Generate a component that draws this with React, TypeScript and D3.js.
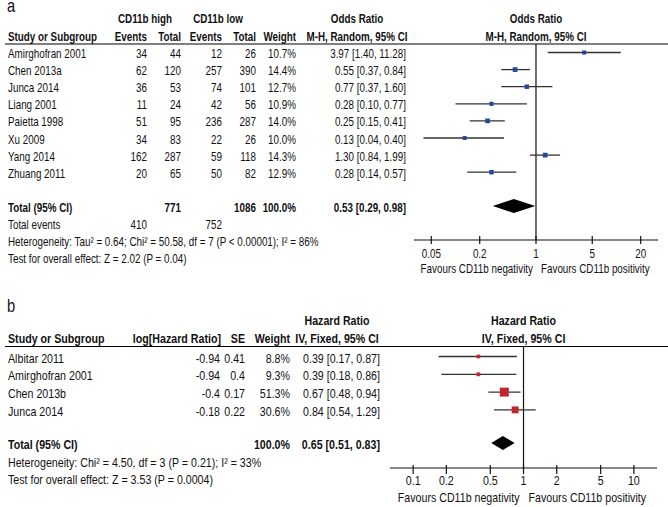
import * as d3 from 'd3';
import React, { useRef, useEffect } from 'react';

const FONT = "'Liberation Sans', Arial, sans-serif";
const SQUEEZE = 0.82; // the source uses a narrow face

// panel a - CD11b high vs low, odds ratios
const studiesA = ['Amirghofran 2001', 'Chen 2013a', 'Junca 2014', 'Liang 2001', 'Paietta 1998', 'Xu 2009', 'Yang 2014', 'Zhuang 2011'];
const highEvents = [34, 62, 36, 11, 51, 34, 162, 20];
const highTotal = [44, 120, 53, 24, 95, 83, 287, 65];
const lowEvents = [12, 257, 74, 42, 236, 22, 59, 50];
const lowTotal = [26, 390, 101, 56, 287, 26, 118, 82];
const weightA = [10.7, 14.4, 12.7, 10.9, 14.0, 10.0, 14.3, 12.9];
const orA = [3.97, 0.55, 0.77, 0.28, 0.25, 0.13, 1.30, 0.28];
const orLowA = [1.40, 0.37, 0.37, 0.10, 0.15, 0.04, 0.84, 0.14];
const orHighA = [11.28, 0.84, 1.60, 0.77, 0.41, 0.40, 1.99, 0.57];
const totalOrA = [0.53, 0.29, 0.98]; // estimate, lower, upper
const ticksA = [0.05, 0.2, 1, 5, 20];
const hetA = 'Heterogeneity: Tau² = 0.64; Chi² = 50.58, df = 7 (P < 0.00001); I² = 86%';
const testA = 'Test for overall effect: Z = 2.02 (P = 0.04)';

// panel b - hazard ratios
const studiesB = ['Albitar 2011', 'Amirghofran 2001', 'Chen 2013b', 'Junca 2014'];
const logHR = [-0.94, -0.94, -0.4, -0.18];
const seB = [0.41, 0.4, 0.17, 0.22];
const weightB = [8.8, 9.3, 51.3, 30.6];
const hrB = [0.39, 0.39, 0.67, 0.84];
const hrLowB = [0.17, 0.18, 0.48, 0.54];
const hrHighB = [0.87, 0.86, 0.94, 1.29];
const totalHrB = [0.65, 0.51, 0.83];
const ticksB = [0.1, 0.2, 0.5, 1, 2, 5, 10];
const hetB = 'Heterogeneity: Chi² = 4.50, df = 3 (P = 0.21); I² = 33%';
const testB = 'Test for overall effect: Z = 3.53 (P = 0.0004)';

const totalWeight = 100.0;

const ciText = (e: number, lo: number, hi: number) => `${e.toFixed(2)} [${lo.toFixed(2)}, ${hi.toFixed(2)}]`;

const App = () => {
    const ref = useRef<HTMLDivElement>(null);

    useEffect(() => {
        const width = 668;
        const height = 507;

        d3.select(ref.current).select('svg').remove();

        const svg = d3.select(ref.current)
            .append('svg')
            .attr('width', width)
            .attr('height', height)
            .style('display', 'block')
            .style('background', '#fff')
            .style('font-family', FONT)
            .attr('fill', '#111');

        // text helper, squeezed horizontally around its anchor point
        const txt = (g: any, x: number, y: number, s: string | number, anchor = 'start', bold = false, size = 12) =>
            g.append('text')
                .attr('transform', `translate(${x},${y}) scale(${SQUEEZE},1)`)
                .attr('text-anchor', anchor)
                .attr('font-weight', bold ? 'bold' : 'normal')
                .attr('font-size', size)
                .text(s);

        // ---------- panel a ----------
        const ga = svg.append('g');
        const fa = 12;
        const rowA = d3.scaleLinear().domain([0, studiesA.length - 1]).range([58, 58 + 7 * 17.1]);
        const xA = d3.scaleLog().domain([0.0305, 32.8]).range([414, 658]);
        const ruleA = 44;
        const axisYA = 240;
        const markOffA = 5.5;

        txt(ga, 7, 12, 'a', 'start', false, 18);
        txt(ga, 145, 23, 'CD11b high', 'middle', true, fa);
        txt(ga, 218, 23, 'CD11b low', 'middle', true, fa);
        txt(ga, 357, 23, 'Odds Ratio', 'middle', true, fa);
        txt(ga, xA(1), 23, 'Odds Ratio', 'middle', true, fa);
        txt(ga, 8, 40.5, 'Study or Subgroup', 'start', true, fa);
        txt(ga, 147, 40.5, 'Events', 'end', true, fa);
        txt(ga, 181, 40.5, 'Total', 'end', true, fa);
        txt(ga, 222, 40.5, 'Events', 'end', true, fa);
        txt(ga, 256, 40.5, 'Total', 'end', true, fa);
        txt(ga, 296, 40.5, 'Weight', 'end', true, fa);
        txt(ga, 357, 40.5, 'M-H, Random, 95% CI', 'middle', true, fa);
        txt(ga, xA(1), 40.5, 'M-H, Random, 95% CI', 'middle', true, fa);

        ga.append('line')
            .attr('x1', 5).attr('x2', width)
            .attr('y1', ruleA).attr('y2', ruleA)
            .attr('stroke', '#000').attr('stroke-width', 1.2);

        studiesA.forEach((s, i) => {
            const y = rowA(i);
            txt(ga, 8, y, s, 'start', false, fa);
            txt(ga, 147, y, highEvents[i], 'end', false, fa);
            txt(ga, 181, y, highTotal[i], 'end', false, fa);
            txt(ga, 222, y, lowEvents[i], 'end', false, fa);
            txt(ga, 256, y, lowTotal[i], 'end', false, fa);
            txt(ga, 296, y, weightA[i].toFixed(1) + '%', 'end', false, fa);
            txt(ga, 406, y, ciText(orA[i], orLowA[i], orHighA[i]), 'end', false, fa);
        });

        const totY = 211.5;
        txt(ga, 8, totY, 'Total (95% CI)', 'start', true, fa);
        txt(ga, 181, totY, d3.sum(highTotal), 'end', true, fa);
        txt(ga, 256, totY, d3.sum(lowTotal), 'end', true, fa);
        txt(ga, 296, totY, totalWeight.toFixed(1) + '%', 'end', true, fa);
        txt(ga, 406, totY, ciText(totalOrA[0], totalOrA[1], totalOrA[2]), 'end', true, fa);
        txt(ga, 8, totY + 17, 'Total events', 'start', false, fa);
        txt(ga, 147, totY + 17, d3.sum(highEvents), 'end', false, fa);
        txt(ga, 222, totY + 17, d3.sum(lowEvents), 'end', false, fa);
        txt(ga, 8, totY + 34, hetA, 'start', false, fa);
        txt(ga, 8, totY + 51, testA, 'start', false, fa);

        // line of no effect
        ga.append('line')
            .attr('x1', xA(1)).attr('x2', xA(1))
            .attr('y1', ruleA).attr('y2', axisYA)
            .attr('stroke', '#111').attr('stroke-width', 1.2);

        // CIs and boxes
        ga.selectAll('line.ci')
            .data(studiesA)
            .enter().append('line')
            .attr('class', 'ci')
            .attr('x1', (d, i) => xA(orLowA[i]))
            .attr('x2', (d, i) => xA(orHighA[i]))
            .attr('y1', (d, i) => rowA(i) - markOffA)
            .attr('y2', (d, i) => rowA(i) - markOffA)
            .attr('stroke', '#333')
            .attr('stroke-width', 1.3);

        ga.selectAll('rect.box')
            .data(studiesA)
            .enter().append('rect')
            .attr('class', 'box')
            .attr('x', (d, i) => xA(orA[i]) - 0.625 * Math.sqrt(weightA[i]))
            .attr('y', (d, i) => rowA(i) - markOffA - 0.625 * Math.sqrt(weightA[i]))
            .attr('width', (d, i) => 1.25 * Math.sqrt(weightA[i]))
            .attr('height', (d, i) => 1.25 * Math.sqrt(weightA[i]))
            .attr('fill', '#24489b');

        const dyA = totY - markOffA;
        ga.append('path')
            .attr('d', `M${xA(totalOrA[1])},${dyA}L${xA(totalOrA[0])},${dyA - 7}L${xA(totalOrA[2])},${dyA}L${xA(totalOrA[0])},${dyA + 7}Z`)
            .attr('fill', '#000');

        // axis
        ga.append('line')
            .attr('x1', xA.range()[0]).attr('x2', xA.range()[1])
            .attr('y1', axisYA).attr('y2', axisYA)
            .attr('stroke', '#111').attr('stroke-width', 1.2);
        ticksA.forEach((t) => {
            ga.append('line')
                .attr('x1', xA(t)).attr('x2', xA(t))
                .attr('y1', axisYA - 4).attr('y2', axisYA + 4)
                .attr('stroke', '#111').attr('stroke-width', 1.2);
            txt(ga, xA(t), axisYA + 18, String(t), 'middle', false, fa);
        });
        txt(ga, xA(1) - 3, axisYA + 33, 'Favours CD11b negativity', 'end', false, fa);
        txt(ga, xA(1) + 5, axisYA + 33, 'Favours CD11b positivity', 'start', false, fa);

        // ---------- panel b ----------
        const gb = svg.append('g');
        const fb = 13;
        const rowB = d3.scaleLinear().domain([0, studiesB.length - 1]).range([362.5, 362.5 + 3 * 17.8]);
        const xB = d3.scaleLog().domain([0.0617, 16.2]).range([390, 657]);
        const ruleB = 346.5;
        const axisYB = 468;
        const markOffB = 6;

        txt(gb, 7, 312, 'b', 'start', false, 18);
        txt(gb, 337, 325, 'Hazard Ratio', 'middle', true, fb);
        txt(gb, xB(1), 325, 'Hazard Ratio', 'middle', true, fb);
        txt(gb, 8, 343, 'Study or Subgroup', 'start', true, fb);
        txt(gb, 221, 343, 'log[Hazard Ratio]', 'end', true, fb);
        txt(gb, 245, 343, 'SE', 'end', true, fb);
        txt(gb, 290, 343, 'Weight', 'end', true, fb);
        txt(gb, 337, 343, 'IV, Fixed, 95% CI', 'middle', true, fb);
        txt(gb, xB(1), 343, 'IV, Fixed, 95% CI', 'middle', true, fb);

        gb.append('line')
            .attr('x1', 5).attr('x2', width)
            .attr('y1', ruleB).attr('y2', ruleB)
            .attr('stroke', '#000').attr('stroke-width', 1.2);

        studiesB.forEach((s, i) => {
            const y = rowB(i);
            txt(gb, 8, y, s, 'start', false, fb);
            txt(gb, 220, y, String(logHR[i]), 'end', false, fb);
            txt(gb, 245, y, String(seB[i]), 'end', false, fb);
            txt(gb, 290, y, weightB[i].toFixed(1) + '%', 'end', false, fb);
            txt(gb, 380, y, ciText(hrB[i], hrLowB[i], hrHighB[i]), 'end', false, fb);
        });

        const totYB = 449;
        txt(gb, 8, totYB, 'Total (95% CI)', 'start', true, fb);
        txt(gb, 290, totYB, totalWeight.toFixed(1) + '%', 'end', true, fb);
        txt(gb, 380, totYB, ciText(totalHrB[0], totalHrB[1], totalHrB[2]), 'end', true, fb);
        txt(gb, 8, totYB + 17.5, hetB, 'start', false, fb);
        txt(gb, 8, totYB + 35, testB, 'start', false, fb);

        gb.append('line')
            .attr('x1', xB(1)).attr('x2', xB(1))
            .attr('y1', ruleB).attr('y2', axisYB)
            .attr('stroke', '#111').attr('stroke-width', 1.2);

        gb.selectAll('line.ci')
            .data(studiesB)
            .enter().append('line')
            .attr('class', 'ci')
            .attr('x1', (d, i) => xB(hrLowB[i]))
            .attr('x2', (d, i) => xB(hrHighB[i]))
            .attr('y1', (d, i) => rowB(i) - markOffB)
            .attr('y2', (d, i) => rowB(i) - markOffB)
            .attr('stroke', '#333')
            .attr('stroke-width', 1.3);

        gb.selectAll('rect.box')
            .data(studiesB)
            .enter().append('rect')
            .attr('class', 'box')
            .attr('x', (d, i) => xB(hrB[i]) - 0.625 * Math.sqrt(weightB[i]))
            .attr('y', (d, i) => rowB(i) - markOffB - 0.625 * Math.sqrt(weightB[i]))
            .attr('width', (d, i) => 1.25 * Math.sqrt(weightB[i]))
            .attr('height', (d, i) => 1.25 * Math.sqrt(weightB[i]))
            .attr('fill', '#c1272d');

        const dyB = totYB - markOffB;
        gb.append('path')
            .attr('d', `M${xB(totalHrB[1])},${dyB}L${xB(totalHrB[0])},${dyB - 7}L${xB(totalHrB[2])},${dyB}L${xB(totalHrB[0])},${dyB + 7}Z`)
            .attr('fill', '#000');

        gb.append('line')
            .attr('x1', xB.range()[0]).attr('x2', xB.range()[1])
            .attr('y1', axisYB).attr('y2', axisYB)
            .attr('stroke', '#111').attr('stroke-width', 1.2);
        ticksB.forEach((t) => {
            gb.append('line')
                .attr('x1', xB(t)).attr('x2', xB(t))
                .attr('y1', axisYB - 3).attr('y2', axisYB + 6)
                .attr('stroke', '#111').attr('stroke-width', 1.2);
            txt(gb, xB(t), axisYB + 17, String(t), 'middle', false, fb);
        });
        txt(gb, xB(1) - 4, axisYB + 34, 'Favours CD11b negativity', 'end', false, fb);
        txt(gb, xB(1) + 5, axisYB + 34, 'Favours CD11b positivity', 'start', false, fb);
    }, []);

    return <div ref={ref} style={{ position: 'absolute', left: 0, top: 0 }}></div>;
};

export default App;
